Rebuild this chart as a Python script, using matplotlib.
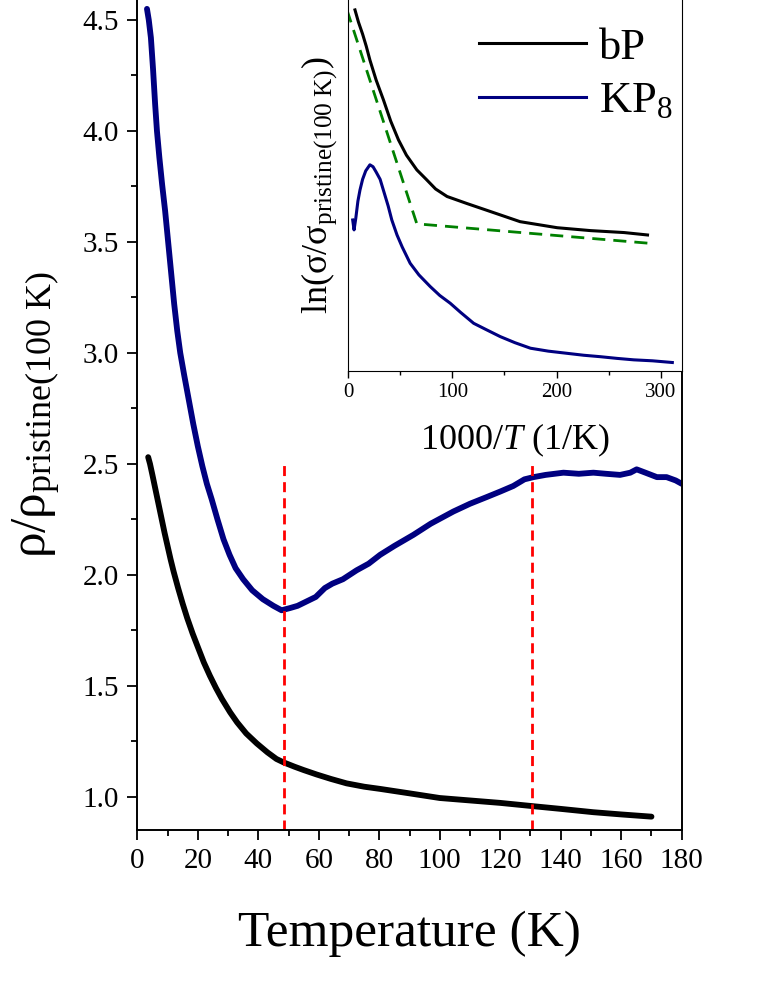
import numpy as np
import matplotlib
matplotlib.use("Agg")
import matplotlib.pyplot as plt
from matplotlib.ticker import MultipleLocator

plt.rcParams['font.family'] = ['Liberation Serif', 'DejaVu Serif']
plt.rcParams['mathtext.fontset'] = 'custom'
plt.rcParams['mathtext.rm'] = 'Liberation Serif'
plt.rcParams['mathtext.it'] = 'Liberation Serif:italic'

# main panel: normalised resistivity vs temperature
t_kp8 = [3.2, 3.8, 4.5, 5.2, 5.9, 6.5, 7.3, 8.2, 9.2, 10.2, 11.2, 12.2, 13.2, 14.2,
         15.5, 17.0, 18.5, 20.0, 21.5, 23.0, 24.6, 26.5, 28.5, 30.5, 32.5, 35.0,
         38.0, 41.5, 45.0, 47.7, 50.5, 53.0, 56.0, 59.0, 62.0, 64.5, 68.0, 72.5,
         76.5, 80.3, 85.0, 91.3, 97.0, 104.5, 110.0, 115.5, 120.0, 124.3, 128.0,
         131.0, 135.0, 140.9, 146.0, 150.8, 155.0, 159.6, 163.0, 165.1, 168.0,
         171.8, 175.0, 178.0, 180.0]
rho_kp8 = [4.55, 4.50, 4.42, 4.28, 4.12, 4.00, 3.88, 3.76, 3.64, 3.50, 3.36, 3.22, 3.10, 3.00,
           2.90, 2.79, 2.68, 2.58, 2.49, 2.41, 2.34, 2.25, 2.16, 2.09, 2.03, 1.98,
           1.93, 1.89, 1.86, 1.84, 1.85, 1.86, 1.88, 1.90, 1.94, 1.96, 1.98, 2.02,
           2.05, 2.09, 2.13, 2.18, 2.23, 2.285, 2.32, 2.35, 2.375, 2.40, 2.43,
           2.44, 2.45, 2.46, 2.455, 2.46, 2.455, 2.45, 2.46, 2.475, 2.46,
           2.44, 2.44, 2.425, 2.41]

t_bp = [3.6, 4.2, 5.0, 6.0, 7.0, 8.0, 9.0, 10.0, 11.0, 12.0, 13.5, 15.0, 16.5, 18.3,
        20.0, 22.0, 24.0, 26.0, 28.0, 30.7, 33.0, 36.0, 39.5, 43.0, 46.0, 48.3,
        52.0, 55.0, 59.3, 64.0, 69.2, 75.0, 80.3, 90.0, 100.0, 110.0, 120.0,
        131.0, 140.0, 150.8, 160.0, 170.0]
rho_bp = [2.53, 2.50, 2.45, 2.385, 2.32, 2.255, 2.19, 2.13, 2.07, 2.015, 1.94, 1.87, 1.805,
          1.735, 1.675, 1.605, 1.545, 1.49, 1.44, 1.38, 1.335, 1.285, 1.24, 1.20, 1.17,
          1.155, 1.135, 1.12, 1.10, 1.08, 1.06, 1.045, 1.035, 1.015, 0.994, 0.983,
          0.972, 0.957, 0.945, 0.930, 0.920, 0.910]

t_marks = [48.6, 130.6]

# inset: ln(sigma/sigma_pristine) vs 1000/T
x_bp_in = [6.7, 10, 14, 17.5, 21, 27, 34, 41, 48.4, 56, 66, 75, 84, 95, 114, 136.5,
           165, 200.6, 232.7, 264.7, 287.2]
y_bp_in = [0.0, -0.05, -0.10, -0.15, -0.207, -0.29, -0.372, -0.46, -0.537, -0.60,
           -0.661, -0.70, -0.74, -0.771, -0.80, -0.833, -0.875, -0.90, -0.912,
           -0.92, -0.93]

x_kp8_in = [4.5, 5.8, 7.5, 9.5, 11.5, 14, 17, 21, 24, 27, 30.8, 35, 38.5, 42, 47, 52,
            59.6, 68, 78.8, 88, 98, 108, 120.5, 132, 146, 160, 175, 192, 210, 226,
            242, 258, 274, 292, 311]
y_kp8_in = [-0.868, -0.909, -0.86, -0.79, -0.744, -0.70, -0.665, -0.64, -0.648, -0.67,
            -0.70, -0.76, -0.81, -0.868, -0.93, -0.98, -1.047, -1.095, -1.143, -1.18,
            -1.212, -1.25, -1.295, -1.32, -1.35, -1.375, -1.398, -1.41, -1.419,
            -1.427, -1.433, -1.44, -1.446, -1.45, -1.457]

x_fit = [-1, 66, 288]
y_fit = [0.0, -0.884, -0.964]

fig = plt.figure(figsize=(7.64, 9.89), dpi=100)
ax = fig.add_axes([0.1797, 0.1608, 0.7126, 0.8392])

ax.plot(t_kp8, rho_kp8, color='#000080', lw=4.2, solid_capstyle='round',
        solid_joinstyle='round')
ax.plot(t_bp, rho_bp, color='black', lw=4.2, solid_capstyle='round',
        solid_joinstyle='round')
for t in t_marks:
    ax.plot([t, t], [0.85, 2.5], color='#ff0000', lw=2, ls=(0, (3.6, 2.2)))

ax.set_xlim(0, 180)
ax.set_ylim(0.85, 4.59)
ax.xaxis.set_major_locator(MultipleLocator(20))
ax.xaxis.set_minor_locator(MultipleLocator(10))
ax.yaxis.set_major_locator(MultipleLocator(0.5))
ax.yaxis.set_minor_locator(MultipleLocator(0.25))
ax.tick_params(which='both', direction='out', width=1.3, labelsize=21, pad=6)
ax.tick_params(which='major', length=7)
ax.tick_params(which='minor', length=4)
ax.spines['top'].set_visible(False)
for s in ['left', 'bottom', 'right']:
    ax.spines[s].set_linewidth(1.4)

ax.set_xlabel('Temperature (K)', fontsize=37, labelpad=26)
ax.set_ylabel(r'ρ/ρ$_{\mathrm{pristine(100\ K)}}$', fontsize=37, labelpad=14)

# inset
ins = fig.add_axes([0.4555, 0.6249, 0.4368, 0.3751])
ins.plot(x_bp_in, y_bp_in, color='black', lw=2.2, label='bP')
ins.plot(x_kp8_in, y_kp8_in, color='#000080', lw=2.2, label=r'KP$_8$')
ins.plot(x_fit, y_fit, color='#008000', lw=2, ls=(0, (4.7, 2.9)))
ins.set_xlim(0, 320)
ins.set_ylim(-1.492, 0.041)
ins.xaxis.set_major_locator(MultipleLocator(100))
ins.xaxis.set_minor_locator(MultipleLocator(50))
ins.set_yticks([])
ins.tick_params(which='both', direction='out', width=1.0, labelsize=15)
ins.tick_params(which='major', length=5)
ins.tick_params(which='minor', length=3)
ins.spines['top'].set_visible(False)
ins.set_xlabel(r'1000/$T$ (1/K)', fontsize=26, labelpad=14)
ins.set_ylabel(r'ln(σ/σ$_{\mathrm{pristine(100\ K)}}$)', fontsize=26, labelpad=6)
ins.legend(loc='upper right', frameon=False, fontsize=32, handlelength=2.4,
           borderaxespad=0.1, labelspacing=0.3, handletextpad=0.3,
           bbox_to_anchor=(1.04, 0.985))

fig.savefig('out.png', dpi=100)
